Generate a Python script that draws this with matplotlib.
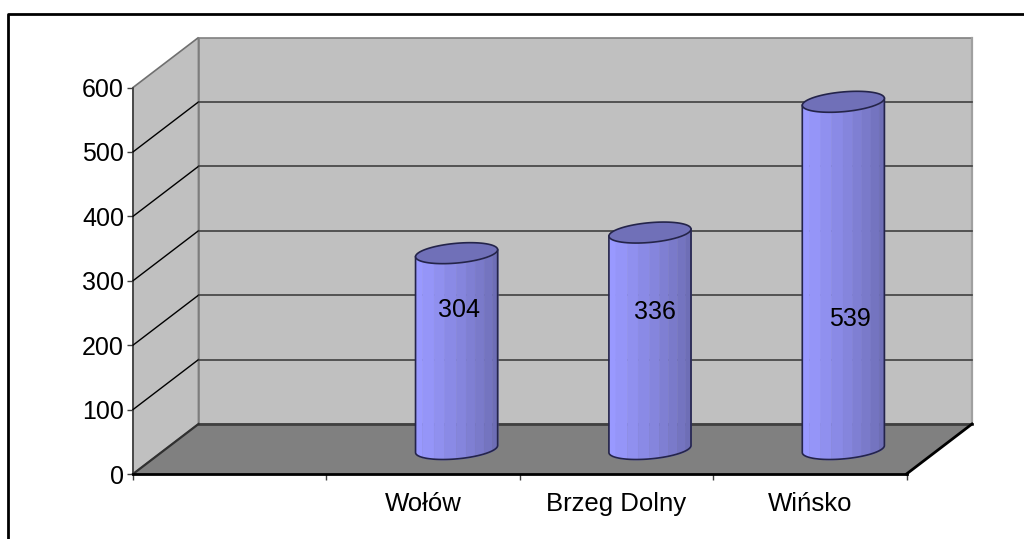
"""
3D-look cylinder chart, drawn on a plain 2D axes with a depth shear.
"""
import numpy as np
import matplotlib
matplotlib.use("Agg")
import matplotlib.pyplot as plt
from matplotlib.lines import Line2D
from matplotlib.patches import Polygon

plt.rcParams['font.family'] = ['Liberation Sans', 'DejaVu Sans']

slots = ["", "Wołów", "Brzeg Dolny", "Wińsko"]
values = [304, 336, 539]
bar_slots = [1, 2, 3]
y_ticks = [0, 100, 200, 300, 400, 500, 600]
# height on the axis at which each value label sits
label_levels = [216, 212, 202]
label_shift = [0.015, 0.03, 0.04]

W, H = 1024, 539
# front plane of the chart box in pixels
LEFT, RIGHT, BOTTOM, TOP = 133, 906.5, 474, 87.5
# how far the back wall is shifted from the front, in data units
DEPTH_X = 65.5 / ((RIGHT - LEFT) / 4)
DEPTH_Y = 50 / ((BOTTOM - TOP) / 600)

WALL = '#C0C0C0'
FLOOR = '#808080'
GRID = '#404040'
OUTLINE = '#24244a'


def sheared(x, y, depth):
    return x + depth * DEPTH_X, y + depth * DEPTH_Y


def draw_cylinder(ax, slot, value):
    half_w = 0.2
    r_d = 0.21  # depth radius of the disc, as part of full depth
    cx = slot + 0.5 + 0.5 * DEPTH_X + 0.004

    def disc(t, level):
        xs = cx + half_w * np.cos(t) + r_d * np.sin(t) * DEPTH_X
        ys = level + 0.5 * DEPTH_Y + r_d * np.sin(t) * DEPTH_Y
        return xs, ys

    # lower half of the base, from the left silhouette point to the right one
    t_left = np.pi + np.arctan2(r_d * DEPTH_X, half_w)
    arc = np.linspace(t_left, t_left + np.pi, 80)
    ox, oy = disc(arc, 0)

    # side of the cylinder as vertical bands, lighter on the left
    edges = ox[0] + (ox[-1] - ox[0]) * np.array(
        [0, 0.08, 0.22, 0.35, 0.49, 0.61, 0.72, 0.83, 0.93, 1])
    light = np.array([153, 153, 255]) / 255
    dark = np.array([110, 110, 182]) / 255
    for i in range(len(edges) - 1):
        mix = (i / (len(edges) - 2)) ** 1.1
        xs = np.linspace(edges[i], edges[i + 1], 12)
        low = np.interp(xs, ox, oy)
        ax.fill_between(xs, low, low + value, color=light + (dark - light) * mix,
                        lw=0.3, zorder=5, clip_on=False)

    ax.plot(np.r_[ox[0], ox, ox[-1]], np.r_[oy[0] + value, oy, oy[-1] + value],
            color=OUTLINE, lw=1.2, zorder=6, clip_on=False)

    tx, ty = disc(np.linspace(0, 2 * np.pi, 80), value)
    ax.add_patch(Polygon(np.c_[tx, ty], closed=True, fc='#7070B8', ec=OUTLINE,
                         lw=1.2, zorder=7, clip_on=False))


fig = plt.figure(figsize=(W / 100, H / 100), dpi=100)
ax = fig.add_axes([LEFT / W, 1 - BOTTOM / H, (RIGHT - LEFT) / W, (BOTTOM - TOP) / H])
ax.set_xlim(0, 4)
ax.set_ylim(0, 600)
ax.patch.set_alpha(0)

# walls and floor
wall_pts = [sheared(0, 0, 0), sheared(0, 0, 1), sheared(0, 600, 1), sheared(0, 600, 0)]
ax.add_patch(Polygon(wall_pts, closed=True, fc=WALL, ec='#707070', lw=1.2, zorder=1, clip_on=False))
back_pts = [sheared(0, 0, 1), sheared(4, 0, 1), sheared(4, 600, 1), sheared(0, 600, 1)]
ax.add_patch(Polygon(back_pts, closed=True, fc=WALL, ec='#808080', lw=1.2, zorder=1, clip_on=False))
x1, y1 = sheared(4, 0, 1)
x2, y2 = sheared(4, 600, 1)
ax.plot([x1, x2], [y1, y2], color='#A0A0A0', lw=1.6, zorder=1, clip_on=False)
floor_pts = [sheared(0, 0, 0), sheared(4, 0, 0), sheared(4, 0, 1), sheared(0, 0, 1)]
ax.add_patch(Polygon(floor_pts, closed=True, fc=FLOOR, ec='none', zorder=2, clip_on=False))

# grid lines on side wall and back wall
for v in y_ticks[1:-1]:
    x0, y0 = sheared(0, v, 0)
    x1, y1 = sheared(0, v, 1)
    x2, y2 = sheared(4, v, 1)
    ax.plot([x0, x1], [y0, y1], color='black', lw=1.0, zorder=3, clip_on=False)
    ax.plot([x1, x2], [y1, y2], color=GRID, lw=1.2, zorder=3, clip_on=False)

# dark edges around the floor
x1, y1 = sheared(0, 0, 1)
x2, y2 = sheared(4, 0, 1)
ax.plot([x1, x2], [y1, y2], color='#404040', lw=2, zorder=3, clip_on=False)
x0, y0 = sheared(0, 0, 0)
ax.plot([x0, x1], [y0, y1], color='#303030', lw=1.6, zorder=3, clip_on=False)
x3, y3 = sheared(4, 0, 0)
ax.plot([x3, x2], [y3, y2], color='black', lw=2, zorder=3, clip_on=False)

for slot, value in zip(bar_slots, values):
    draw_cylinder(ax, slot, value)

for slot, value, level, shift in zip(bar_slots, values, label_levels, label_shift):
    x, y = sheared(slot + 0.5 + shift, level, 0.5)
    ax.text(x, y, str(value), ha='center', va='center', fontsize=18, color='black', zorder=9)

# axes
for side in ['top', 'right']:
    ax.spines[side].set_visible(False)
ax.spines['left'].set_color('#404040')
ax.spines['left'].set_linewidth(1.2)
ax.spines['bottom'].set_color('black')
ax.spines['bottom'].set_linewidth(2)
ax.spines['bottom'].set_zorder(4)
ax.set_yticks(y_ticks)
ax.set_xticks(range(5))
ax.set_xticklabels([])
ax.set_xticks(np.arange(len(slots)) + 0.5, minor=True)
ax.set_xticklabels(slots, minor=True)
ax.tick_params(axis='x', which='major', length=4, width=1, color='#404040')
ax.tick_params(axis='x', which='minor', length=0, pad=13, labelsize=18.5)
ax.tick_params(axis='y', length=4, width=1, color='#404040', labelsize=18, pad=2.5)

# frame round the picture
frame_x = np.array([7.5, 7.5, W]) / W
frame_y = 1 - np.array([H, 13.5, 13.5]) / H
fig.add_artist(Line2D(frame_x, frame_y, color='black', lw=2))

fig.savefig('out.png', dpi=100)
